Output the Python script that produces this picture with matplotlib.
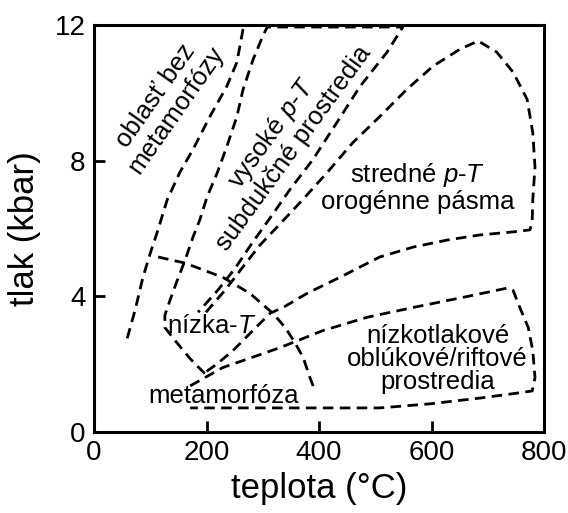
import matplotlib
matplotlib.use("Agg")
import matplotlib.pyplot as plt

# --- data (temperature in °C, pressure in kbar) ---
no_meta_T = [59, 73, 87, 100, 112, 130, 153, 176, 206, 236, 254, 265, 267]
no_meta_P = [2.76, 3.59, 4.56, 5.27, 5.87, 6.84, 7.67, 8.33, 9.3, 10.19, 10.9, 11.88, 11.97]

high_pT_T = [197, 171, 144, 126, 126, 135, 148, 162, 176, 188, 201, 219, 236, 254, 265, 283, 300, 308,
             549, 521, 473, 432, 389, 348, 313, 281, 251, 220, 185]
high_pT_P = [1.72, 2.16, 2.7, 3.08, 3.44, 3.88, 4.47, 5.07, 5.75, 6.25, 6.93, 7.64, 8.41, 9.3, 10.1, 10.99, 11.67, 11.94,
             11.94, 11.2, 10.19, 9.13, 8.03, 7.14, 6.31, 5.57, 4.83, 4.18, 3.53]

orogen_T = [199, 233, 263, 295, 327, 366, 414, 460, 508, 556, 603, 651, 683, 716, 745, 770, 780, 784, 780, 779,
            775, 745, 686, 628, 567, 508, 437, 379, 336, 313, 277, 247, 219, 197]
orogen_P = [3.53, 4.18, 4.83, 5.51, 6.07, 6.76, 7.64, 8.53, 9.3, 10.1, 10.79, 11.29, 11.53, 11.2, 10.61, 9.81, 8.83, 7.82, 6.84, 6.19,
            5.96, 5.9, 5.81, 5.66, 5.45, 5.16, 4.56, 4.09, 3.67, 3.5, 2.9, 2.4, 2.01, 1.75]

low_p_T = [171, 229, 300, 331, 407, 485, 567, 656, 734, 745, 757, 772, 780, 784, 779, 745, 686, 597, 508, 389, 171]
low_p_P = [1.36, 1.9, 2.31, 2.49, 2.99, 3.38, 3.67, 3.97, 4.24, 4.18, 3.67, 3.08, 2.4, 1.6, 1.21, 1.13, 1.0, 0.83, 0.71, 0.71, 0.71]

low_T_T = [114, 162, 229, 277, 318, 340, 357, 372, 384, 393]
low_T_P = [5.16, 4.98, 4.56, 4.09, 3.5, 3.08, 2.64, 2.19, 1.6, 1.21]

x_ticks = [0, 200, 400, 600, 800]
y_ticks = [0, 4, 8, 12]

plt.rcParams['font.family'] = ['Liberation Sans', 'DejaVu Sans']
plt.rcParams['mathtext.fontset'] = 'custom'
plt.rcParams['mathtext.rm'] = 'Liberation Sans'
plt.rcParams['mathtext.it'] = 'Liberation Sans:italic'

fig = plt.figure(figsize=(5.68, 5.13), dpi=100)
ax = fig.add_axes([94/568, 1-432/513, 450/568, 407/513])

style = dict(color='black', lw=2.0, dashes=(3.8, 2.3), dash_capstyle='butt')
for T, P in [(no_meta_T, no_meta_P), (high_pT_T, high_pT_P), (orogen_T, orogen_P),
             (low_p_T, low_p_P), (low_T_T, low_T_P)]:
    ax.plot(T, P, **style)

ax.set_xlim(0, 800)
ax.set_ylim(0, 12)
ax.set_xticks(x_ticks)
ax.set_yticks(y_ticks)
ax.tick_params(direction='in', length=8, width=2, labelsize=20, pad=6)
for s in ax.spines.values():
    s.set_linewidth(2.2)
ax.set_xlabel('teplota (°C)', fontsize=25, labelpad=4)
ax.set_ylabel('tlak (kbar)', fontsize=25, labelpad=10)

fs = 18.5
ax.text(128, 9.7, 'oblasť bez\nmetamorfózy', rotation=55, ha='center', va='center',
        fontsize=fs, rotation_mode='anchor', linespacing=1.0)
ax.text(334, 8.6, 'vysoké $p$-$T$\nsubdukčné prostredia', rotation=54, ha='center', va='center',
        fontsize=fs, rotation_mode='anchor', linespacing=1.0)
ax.text(576, 7.2, 'stredné $p$-$T$\norogénne pásma', ha='center', va='center', fontsize=fs, linespacing=1.05)
ax.text(611, 2.16, 'nízkotlakové\noblúkové/riftové\nprostredia', ha='center', va='center', fontsize=fs,
        linespacing=0.95)
ax.text(210, 3.14, 'nízka-$T$', ha='center', va='center', fontsize=fs)
ax.text(231, 1.05, 'metamorfóza', ha='center', va='center', fontsize=fs)

fig.savefig('out.png', dpi=100)
